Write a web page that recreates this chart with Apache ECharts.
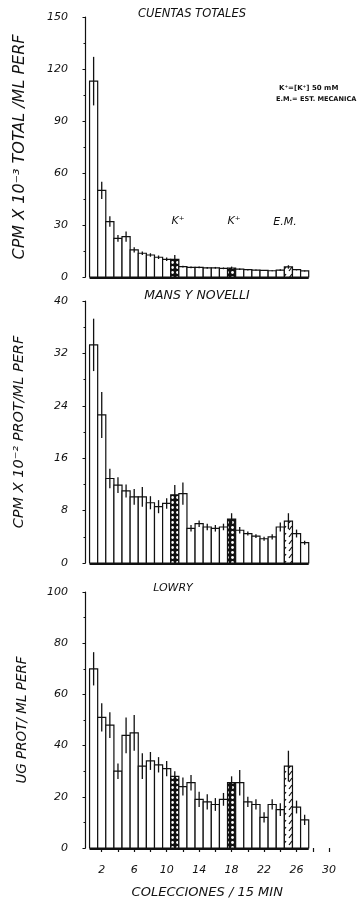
<!DOCTYPE html>
<html><head><meta charset="utf-8">
<script src="https://cdn.jsdelivr.net/npm/echarts@6/dist/echarts.min.js"></script>
<style>html,body{margin:0;padding:0;background:#fff}#c{width:363px;height:919px}</style>
</head><body><div id="c"></div>
<script>
// ---- data ----
const collections = [1,2,3,4,5,6,7,8,9,10,11,12,13,14,15,16,17,18,19,20,21,22,23,24,25,26,27];
const totalCounts = [113, 50, 32, 22.3, 23.3, 15.6, 13.7, 12.7, 11.4, 10.2, 10.2, 6.0, 5.6, 5.5, 5.3, 5.3, 5.0, 5.2, 4.5, 4.2, 4.0, 3.8, 3.6, 4.0, 5.8, 4.2, 3.5];
const totalErr    = [14, 5, 3, 2, 3, 1.5, 1, 1, 1, 1, 2.5, 0.5, 0.5, 0.5, 0.5, 0.5, 0.5, 0.8, 0.4, 0.4, 0.3, 0.3, 0.3, 0.4, 1, 0.4, 0.3];
const mansNovelli = [33.3, 22.6, 12.9, 11.9, 11.0, 10.1, 10.1, 9.2, 8.6, 9.1, 10.4, 10.6, 5.3, 6.0, 5.5, 5.3, 5.5, 6.7, 5.0, 4.5, 4.1, 3.7, 4.0, 5.5, 6.4, 4.5, 3.1];
const mansErr     = [4, 3.5, 1.5, 1.2, 1, 1.2, 1.5, 1, 1, 0.8, 1.5, 1.7, 0.5, 0.5, 0.5, 0.5, 0.5, 0.9, 0.5, 0.3, 0.3, 0.3, 0.4, 0.7, 1.2, 0.6, 0.3];
const lowry       = [70, 51, 48, 30, 44, 45, 32, 34, 32.5, 31, 28, 24, 25.5, 19, 18, 17, 19, 25.5, 25.5, 18, 17, 12, 17, 15, 32, 16, 11];
const lowryErr    = [6.5, 5.5, 5, 3, 7, 7, 5, 3.5, 3, 3, 2, 3.5, 3, 3, 3, 2.5, 2.5, 2.5, 5, 2, 2, 2, 2, 2.5, 6, 2.5, 2];
const kStimulus = [11, 18];   // K+ 50 mM collections
const mechStimulus = [25];    // E.M. collection
const xTicks = [2,4,6,8,10,12,14,16,18,20,22,24,26,28,30];
const xLabels = [2,6,10,14,18,22,26,30];

// ---- patterns ----
function crossPattern(){
  const c = document.createElement('canvas'); c.width = 5; c.height = 5;
  const g = c.getContext('2d');
  g.fillStyle = '#111'; g.fillRect(0,0,5,5);
  g.fillStyle = '#fff'; g.beginPath(); g.arc(2.5,2.5,1.4,0,Math.PI*2); g.fill();
  return {image: c, repeat: 'repeat'};
}
function dashPattern(){
  const c = document.createElement('canvas'); c.width = 6; c.height = 7;
  const g = c.getContext('2d');
  g.fillStyle = '#fff'; g.fillRect(0,0,6,7);
  g.strokeStyle = '#111'; g.lineWidth = 1.2;
  g.beginPath(); g.moveTo(1,5); g.lineTo(4,1); g.stroke();
  return {image: c, repeat: 'repeat'};
}
const PX = crossPattern(), PD = dashPattern();

function barSeries(idx, vals, errs){
  return {
    type: 'custom', xAxisIndex: idx, yAxisIndex: idx,
    data: collections.map((c,i)=>[c, vals[i], errs[i]]),
    renderItem: function(params, api){
      const x = api.value(0), y = api.value(1), e = api.value(2);
      const a = api.coord([x-0.5, 0]), b = api.coord([x+0.5, y]);
      const t = api.coord([x, y+e]), d = api.coord([x, Math.max(0, y-e)]);
      let fill = '#fff';
      if (kStimulus.indexOf(x) >= 0) fill = PX;
      else if (mechStimulus.indexOf(x) >= 0) fill = PD;
      const children = [
        {type:'rect', shape:{x:a[0], y:b[1], width:b[0]-a[0], height:a[1]-b[1]},
         style:{fill: fill, stroke:'#111', lineWidth:1.2}},
        {type:'line', shape:{x1:t[0], y1:t[1], x2:d[0], y2:d[1]},
         style:{stroke:'#111', lineWidth:1.3}}
      ];
      if (params.dataIndex === 0){
        const s = api.coord([0.5, 0]), f = api.coord([collections.length+0.5, 0]);
        children.push({type:'line', shape:{x1:s[0], y1:s[1]+1, x2:f[0], y2:f[1]+1},
          style:{stroke:'#111', lineWidth:2}});
      }
      return {type:'group', children};
    }
  };
}

const FONT = 'DejaVu Sans';
function yAx(idx, max, interval, name, nameGap, nsize){
  return {type:'value', gridIndex: idx, min:0, max, interval, offset: 13.5,
    axisLine:{show:true, lineStyle:{color:'#111', width:1.2}},
    axisTick:{show:true, length:3, lineStyle:{color:'#111'}},
    minorTick:{show:true, splitNumber:2, length:2, lineStyle:{color:'#111'}},
    splitLine:{show:false}, minorSplitLine:{show:false},
    axisLabel:{color:'#111', fontSize:11, fontStyle:'italic', fontFamily:FONT, margin:4},
    name, nameLocation:'middle', nameRotate:90, nameGap,
    nameTextStyle:{color:'#111', fontSize:nsize, fontStyle:'italic', fontFamily:FONT}};
}
function xHidden(idx){ return {type:'value', gridIndex: idx, min:0, max:30, show:false}; }

const chart = echarts.init(document.getElementById('c'), null, {renderer:'canvas'});
function txt(text, x, y, size, align, weight){
  return {type:'text', x, y, style:{text, fill:'#111',
    font:(weight ? 'bold ' : 'italic ')+size+'px "'+FONT+'"',
    align: align||'center', verticalAlign:'middle', textAlign: align||'center', textVerticalAlign:'middle'}};
}
chart.setOption({
  backgroundColor:'#fff',
  animation:false,
  grid:[
    {left:85.5, right:34, top:17, height:260},
    {left:85.5, right:34, top:301, height:262},
    {left:85.5, right:34, top:592, height:256}
  ],
  xAxis:[xHidden(0), xHidden(1),
    {type:'value', gridIndex:2, min:0, max:30, offset:8,
     axisLine:{show:false},
     axisTick:{show:true, length:4, customValues:xTicks, lineStyle:{color:'#111', width:1.2}},
     axisLabel:{show:true, customValues:xLabels, color:'#111', fontSize:11, fontStyle:'italic', fontFamily:FONT, margin:9},
     splitLine:{show:false},
     name:'COLECCIONES / 15 MIN', nameLocation:'middle', nameGap:30,
     nameTextStyle:{color:'#111', fontSize:13, fontStyle:'italic', fontFamily:FONT}}
  ],
  yAxis:[
    yAx(0, 150, 30, 'CPM X 10\u207B\u00B3 TOTAL /ML PERF', 44, 16),
    yAx(1, 40, 8, 'CPM X 10\u207B\u00B2 PROT/ML PERF', 45, 14.5),
    yAx(2, 100, 20, 'UG PROT/ ML PERF', 43, 13.5)
  ],
  graphic:[
    txt('CUENTAS TOTALES', 192, 14, 11.5),
    txt('MANS Y NOVELLI', 197, 296, 12.5),
    txt('LOWRY', 173, 588, 11),
    txt('K\u207A=[K\u207A] 50 mM', 279, 88, 7, 'left', true),
    txt('E.M.= EST. MECANICA', 276, 99, 6.6, 'left', true),
    txt('K\u207A', 178, 221, 11),
    txt('K\u207A', 234, 221, 11),
    txt('E.M.', 285, 222, 11)
  ],
  series:[
    barSeries(0, totalCounts, totalErr),
    barSeries(1, mansNovelli, mansErr),
    barSeries(2, lowry, lowryErr)
  ]
});
</script></body></html>
